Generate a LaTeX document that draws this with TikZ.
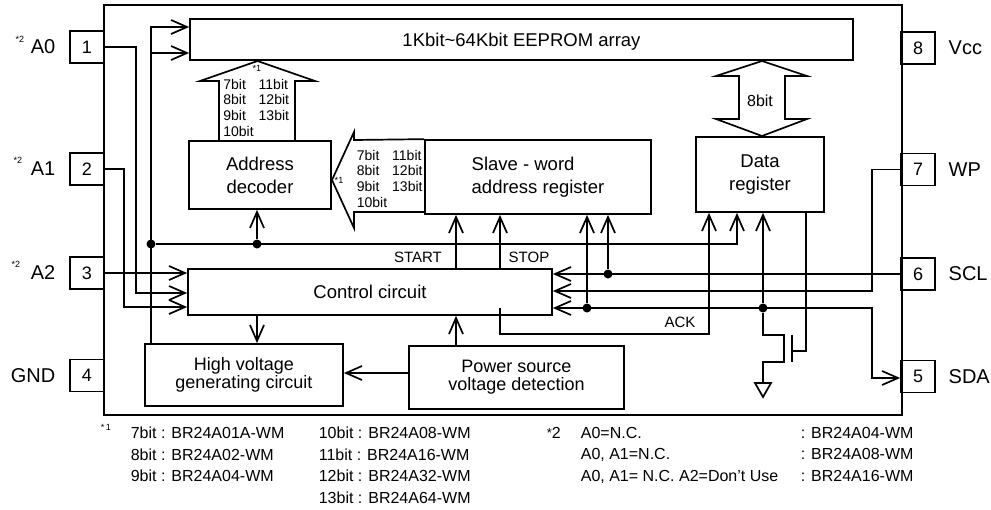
\documentclass[tikz,border=0pt]{standalone}
\usepackage{fontspec}
\setmainfont{Liberation Sans}
\usetikzlibrary{arrows.meta}

\tikzset{
  blk/.style={draw, inner sep=0pt, align=center, font=\fontsize{18.5}{23}\selectfont},
  pin/.style={draw, minimum width=34pt, minimum height=32pt, inner sep=0pt, font=\fontsize{18}{20}\selectfont},
  pinname/.style={inner sep=0pt, font=\fontsize{20}{22}\selectfont},
  star/.style={inner sep=0pt, font=\fontsize{9}{9}\selectfont},
  sig/.style={inner sep=0pt, font=\fontsize{15}{16}\selectfont},
  bits/.style={inner sep=0pt, anchor=base west, font=\fontsize{14}{15.7}\selectfont},
  foot/.style={inner sep=0pt, anchor=north west, align=left, font=\fontsize{16}{21.7}\selectfont},
  dot/.style={circle, fill, inner sep=0pt, minimum size=9pt},
}

\begin{document}
\begin{tikzpicture}[x=1pt, y=-1pt, line width=1.7pt, >={Straight Barb[length=16pt,width=14pt]}]
\useasboundingbox (0,0) rectangle (991,509);

% chip outline
\draw (104,5) rectangle (902,415);

% pins
\foreach \n/\y in {1/47, 2/169, 3/273, 4/375.5}
  \node[pin] (pin\n) at (87,\y) {\n};
\foreach \n/\y in {8/48, 7/169.5, 6/274, 5/376.5}
  \node[pin] (pin\n) at (918,\y) {\n};
\foreach \n/\t in {1/A0, 2/A1, 3/A2, 4/GND}
  \node[pinname, anchor=east] (name\n) at ([xshift=-13pt]pin\n.west) {\t};
\foreach \n/\t in {8/Vcc, 7/WP, 6/SCL, 5/SDA}
  \node[pinname, anchor=west] (name\n) at ([xshift=12pt]pin\n.east) {\t};
\node[star] at (20,39) {*2};
\node[star] at (18,160) {*2};
\node[star] at (16,264) {*2};

% blocks
\node[blk, minimum width=663pt, minimum height=41pt, text depth=0pt] (rom) at (521.5,39.5) {1Kbit\textasciitilde 64Kbit EEPROM array};
\node[blk, minimum width=142pt, minimum height=68pt] (dec) at (260,175) {Address\\decoder};
\node[blk, minimum width=226pt, minimum height=74pt, align=left] (slave) at (538,177) {Slave - word\\address register};
\node[blk, minimum width=128pt, minimum height=75pt] (data) at (760,174.5) {Data\\register};
\node[blk, minimum width=364pt, minimum height=46pt] (ctrl) at (370,292) {Control circuit};
\node[blk, minimum width=198pt, minimum height=62pt, font=\fontsize{18}{18}\selectfont] (hv) at (244,375) {High voltage\\generating circuit};
\node[blk, minimum width=215pt, minimum height=63pt, font=\fontsize{18}{18}\selectfont] (pwr) at (516.5,377.5) {Power source\\voltage detection};

% wide buses
\draw (219,141) -- (219,81) -- (200,81) -- (257.5,61) -- (315,81) -- (295,81) -- (295,141);
\node[bits] (abus) at (222.5,89) {\begin{tabular}[t]{@{}l@{\hspace{5pt}}l@{}}7bit & 11bit\\8bit & 12bit\\9bit & 13bit\\10bit\end{tabular}};
\node[star] at (257,68) {*1};
\draw (slave.north west) -- (354,140) -- (354,132) -- (332,180) -- (354,228) -- (354,212) -- (slave.south west |- 0,212);
\node[bits] (sbus) at (356,160) {\begin{tabular}[t]{@{}l@{\hspace{5pt}}l@{}}7bit & 11bit\\8bit & 12bit\\9bit & 13bit\\10bit\end{tabular}};
\node[star] at (339,180) {*1};
\draw (762,61) -- (807,76) -- (785,76) -- (785,119) -- (807,119) -- (762,136) -- (716,119) -- (739,119) -- (739,76) -- (716,76) -- cycle;
\node[sig, font=\fontsize{16}{16}\selectfont] (dbus) at (760,101) {8bit};

% junctions
\node[dot] (j1) at (151,244) {};
\node[dot] (j2) at (257,244) {};
\node[dot] (j3) at (608,274) {};
\node[dot] (j4) at (587,308) {};
\node[dot] (j5) at (763,308) {};

% address pins
\draw[->] (pin1.east) -| (136,293) -- (ctrl.west |- 0,293);
\draw[->] (pin2.east) -| (124,307) -- (ctrl.west |- 0,307);
\draw[->] (pin3.east) -- (ctrl.west |- pin3);
\draw[->] (hv.north -| j1) -- (151,27) -- (rom.west |- 0,27);
\draw[->] (151,53) -- (rom.west |- 0,53);
\draw[->] (j1) -| (data.south -| 737,0);
\draw[->] (j2) -- (j2 |- dec.south);

% control
\draw[->] (ctrl.north -| 456,0) -- (slave.south -| 456,0);
\draw[->] (ctrl.north -| 500,0) -- (slave.south -| 500,0);
\node[sig] (start) at (418,257) {START};
\node[sig] (stop) at (529,257) {STOP};
\draw[->] (ctrl.south -| j2) -- (hv.north -| j2);
\draw[->] (pwr.north -| 456,0) -- (ctrl.south -| 456,0);
\draw[->] (pwr.west |- 0,373) -- (hv.east |- 0,373);
\draw[->] (500,308) |- (709,334) -- (data.south -| 709,0);
\node[sig] (ack) at (680,322) {ACK};

% serial pins
\draw[->] (pin6.west) -- (ctrl.east |- pin6);
\draw[->] (j3) -- (j3 |- slave.south);
\draw[->] (pin7.west) -| (872,291) -- (ctrl.east |- 0,291);
\draw[<->] (ctrl.east |- 0,308) -| (872,378) -- (pin5.west |- 0,378);
\draw[->] (j4) -- (j4 |- slave.south);
\draw[->] (j5) -- (j5 |- data.south);

% output transistor
\draw (j5) |- (784,335) -- (784,362) -| (763,383);
\draw (755,383) -- (771,383) -- (763,397) -- cycle;
\draw (792,335) -- (792,362);
\draw (data.south -| 806,0) |- (792,351);

% notes
\node[star] at (106,427) {*\,1};
\node[foot] (fn1a) at (130,426) {7bit : BR24A01A-WM\\8bit : BR24A02-WM\\9bit : BR24A04-WM};
\node[foot] (fn1b) at (318,426) {10bit : BR24A08-WM\\11bit : BR24A16-WM\\12bit : BR24A32-WM\\13bit : BR24A64-WM};
\node[inner sep=0pt, anchor=base west, font=\fontsize{16}{16}\selectfont] at (546,438) {\raisebox{1pt}{\fontsize{13}{13}\selectfont *}2};
\node[foot] (fn2a) at (580,426) {A0=N.C.\\A0, A1=N.C.\\A0, A1= N.C. A2=Don’t Use};
\node[foot] (fn2b) at (800,426) {: BR24A04-WM\\: BR24A08-WM\\: BR24A16-WM};

\end{tikzpicture}
\end{document}
